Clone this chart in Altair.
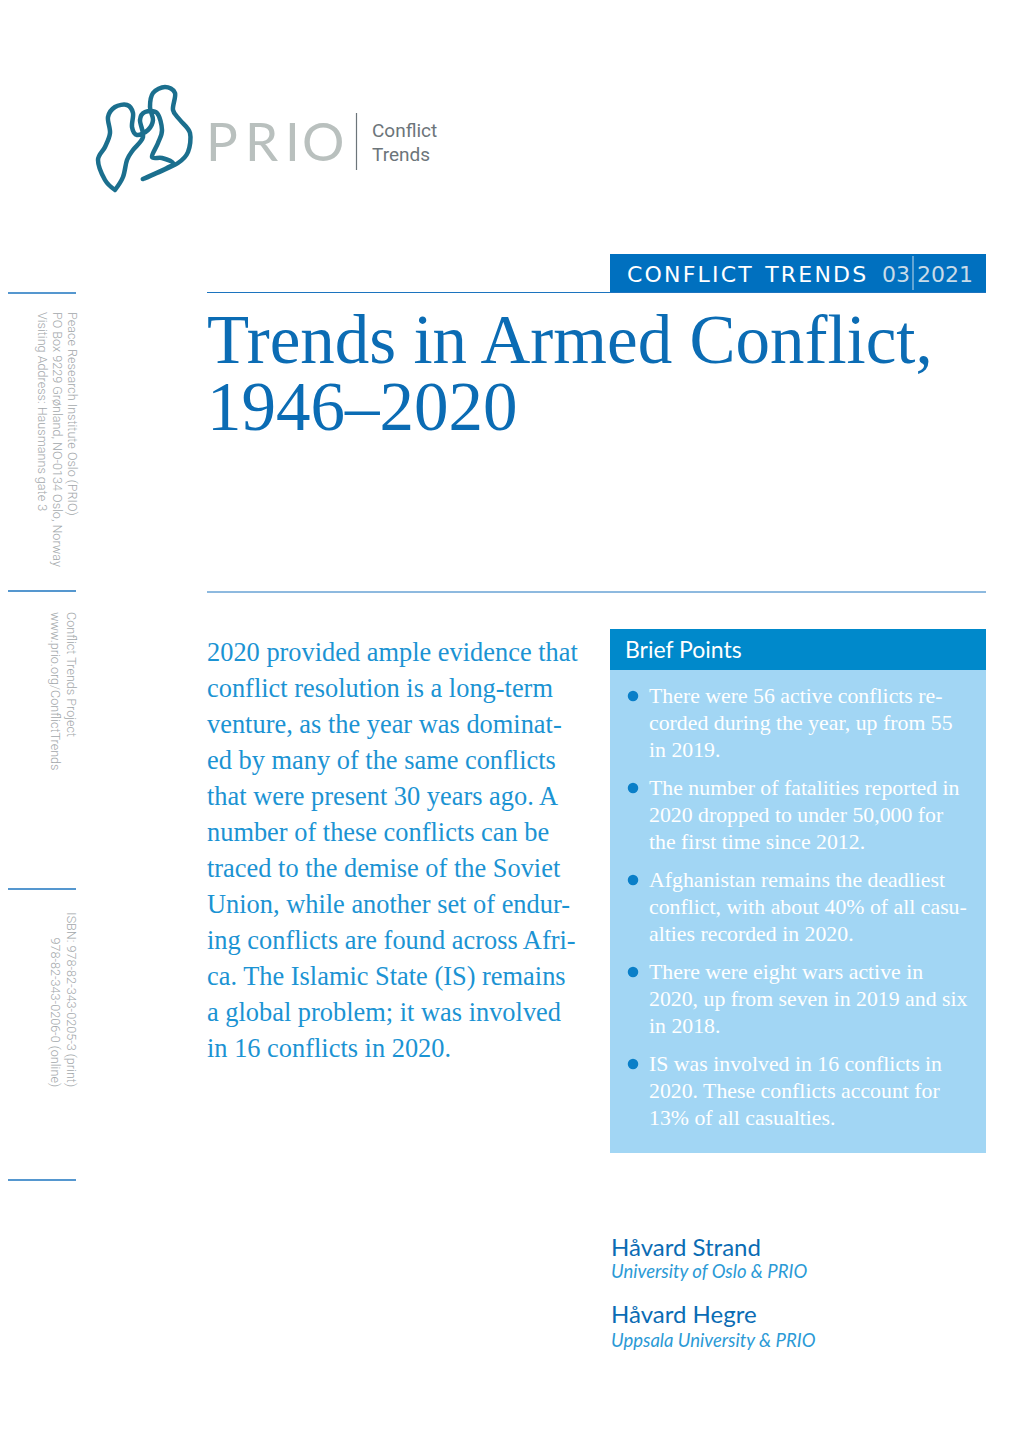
import altair as alt
import pandas as pd

# ---------------- content ----------------
logo_letters = ["P", "R", "I", "O"]
logo_sub = ["Conflict", "Trends"]
series_name = "CONFLICT TRENDS"
series_issue = "03"
series_year = "2021"
title_lines = ["Trends in Armed Conflict,", "1946–2020"]
intro_lines = [
    "2020 provided ample evidence that",
    "conflict resolution is a long-term",
    "venture, as the year was dominat-",
    "ed by many of the same conflicts",
    "that were present 30 years ago. A",
    "number of these conflicts can be",
    "traced to the demise of the Soviet",
    "Union, while another set of endur-",
    "ing conflicts are found across Afri-",
    "ca. The Islamic State (IS) remains",
    "a global problem; it was involved",
    "in 16 conflicts in 2020.",
]
brief_title = "Brief Points"
brief_points = [
    ["There were 56 active conflicts re-", "corded during the year, up from 55", "in 2019."],
    ["The number of fatalities reported in", "2020 dropped to under 50,000 for", "the first time since 2012."],
    ["Afghanistan remains the deadliest", "conflict, with about 40% of all casu-", "alties recorded in 2020."],
    ["There were eight wars active in", "2020, up from seven in 2019 and six", "in 2018."],
    ["IS was involved in 16 conflicts in", "2020. These conflicts account for", "13% of all casualties."],
]
side_address = [
    "Peace Research Institute Oslo (PRIO)",
    "PO Box 9229 Grønland, NO-0134 Oslo, Norway",
    "Visiting Address: Hausmanns gate 3",
]
side_project = ["Conflict Trends Project", "www.prio.org/ConflictTrends"]
side_isbn = ["ISBN: 978-82-343-0205-3 (print)", "978-82-343-0206-0 (online)"]
authors = ["Håvard Strand", "Håvard Hegre"]
affiliations = ["University of Oslo & PRIO", "Uppsala University & PRIO"]

# outline of the logo emblem
logo_path_x = [115, 105, 98, 105, 110, 108, 115, 127, 133, 132, 137, 148, 153, 150, 153, 165, 175, 173,
               180, 190, 188, 178, 157, 143, 167, 173, 162, 152, 158, 162, 157, 145, 140, 143, 133, 127, 123, 115]
logo_path_y = [190, 180, 160, 147, 133, 117, 107, 105, 113, 127, 135, 130, 120, 107, 93, 87, 93, 110,
               120, 133, 152, 163, 173, 179, 168, 163, 158, 157, 143, 130, 113, 112, 120, 137, 150, 160, 177, 190]

# ---------------- layout ----------------
W, H = 1004, 1420
XS = alt.Scale(domain=[8, 8 + W], nice=False, zero=False)
YS = alt.Scale(domain=[8, 8 + H], nice=False, zero=False, reverse=True)
X = alt.X("x:Q", scale=XS, axis=None)
Y = alt.Y("y:Q", scale=YS, axis=None)
X2 = alt.X2("x2:Q")
Y2 = alt.Y2("y2:Q")

SERIF = "Liberation Serif"
SANS = "Lato"

TITLE_BLUE = "#0b6cb4"
LIGHT_BLUE = "#1b93d3"
BAR_BLUE = "#0070bf"
BRIEF_HEAD = "#0089cb"
BRIEF_BODY = "#a2d6f4"
BULLET = "#0a7fc8"
GRAY = "#a2a7aa"
RULE = "#1c74bf"

HAIR = "\u200a"


def spaced(s):
    # emulate the letter spacing of the series banner
    return HAIR.join(list(s)).replace(" ", " " + HAIR)


layers = []


def text_layer(rows, **mk):
    df = pd.DataFrame(rows)
    return alt.Chart(df).mark_text(**mk).encode(x=X, y=Y, text="t:N")


def rect_layer(rows, color):
    df = pd.DataFrame(rows)
    return alt.Chart(df).mark_rect(color=color).encode(x=X, x2=X2, y=Y, y2=Y2)


def rule_layer(rows, color, width):
    df = pd.DataFrame(rows)
    return alt.Chart(df).mark_rule(color=color, strokeWidth=width).encode(x=X, x2=X2, y=Y, y2=Y2)


# logo emblem
logo_df = pd.DataFrame({"x": logo_path_x, "y": logo_path_y, "i": range(len(logo_path_x))})
layers.append(
    alt.Chart(logo_df).mark_line(interpolate="cardinal", strokeWidth=4.5, color="#1b6f8e",
                                 strokeCap="round", strokeJoin="round")
    .encode(x=X, y=Y, order="i:Q")
)
# PRIO letters
prio_x = [206, 245, 285, 302]
layers.append(text_layer([{"x": px, "y": 161, "t": l} for px, l in zip(prio_x, logo_letters)],
                         font=SANS, fontSize=53, color="#b9c0be", align="left", baseline="alphabetic"))
layers.append(rule_layer([{"x": 356.5, "x2": 356.5, "y": 113, "y2": 170}], "#6c757a", 1.2))
layers.append(text_layer([{"x": 372, "y": 137 + 24 * i, "t": s} for i, s in enumerate(logo_sub)],
                         font="Roboto", fontSize=19, color="#6c757a", align="left", baseline="alphabetic"))

# series bar
layers.append(rect_layer([{"x": 610, "x2": 986, "y": 254, "y2": 292}], BAR_BLUE))
layers.append(text_layer([{"x": 627, "y": 282, "t": spaced(series_name)}],
                         font="DejaVu Sans", fontSize=22, color="white", align="left", baseline="alphabetic"))
layers.append(text_layer([{"x": 882, "y": 282, "t": series_issue},
                          {"x": 917, "y": 282, "t": series_year}],
                         font="DejaVu Sans", fontSize=22, color="#c7dbe8", align="left", baseline="alphabetic"))
layers.append(rule_layer([{"x": 913, "x2": 913, "y": 256, "y2": 290}], "#c7dbe8", 1))

# horizontal rules
layers.append(rule_layer([{"x": 207, "x2": 986, "y": 292.5, "y2": 292.5},
                          {"x": 207, "x2": 986, "y": 592, "y2": 592}], RULE, 1))
layers.append(rule_layer([{"x": 0, "x2": 76, "y": yy, "y2": yy} for yy in [293, 591, 889, 1180]], RULE, 1.3))

# title
layers.append(text_layer([{"x": 207, "y": 363 + 67 * i, "t": s} for i, s in enumerate(title_lines)],
                         font=SERIF, fontSize=69, color=TITLE_BLUE, align="left", baseline="alphabetic"))

# side texts (rotated)
SIDE = dict(font="Roboto", fontSize=12.6, fontWeight=300, color=GRAY, angle=90, baseline="middle")
side_rows = [{"x": 72 - 15 * i, "y": 312, "t": s} for i, s in enumerate(side_address)]
side_rows += [{"x": 71 - 16 * i, "y": 612, "t": s} for i, s in enumerate(side_project)]
layers.append(text_layer(side_rows, align="left", **SIDE))
layers.append(text_layer([{"x": 71 - 16 * i, "y": 1087, "t": s} for i, s in enumerate(side_isbn)],
                         align="right", **SIDE))

# intro paragraph
layers.append(text_layer([{"x": 207, "y": 661 + 36 * i, "t": s} for i, s in enumerate(intro_lines)],
                         font=SERIF, fontSize=26.4, color=LIGHT_BLUE, align="left", baseline="alphabetic"))

# brief points box
layers.append(rect_layer([{"x": 610, "x2": 986, "y": 629, "y2": 670}], BRIEF_HEAD))
layers.append(rect_layer([{"x": 610, "x2": 986, "y": 670, "y2": 1153}], BRIEF_BODY))
layers.append(text_layer([{"x": 625, "y": 658, "t": brief_title}],
                         font=SANS, fontSize=23, color="white", align="left", baseline="alphabetic"))
brief_rows = []
bullet_rows = []
for b, lines in enumerate(brief_points):
    base = 703 + 92 * b
    bullet_rows.append({"x": 633, "y": base - 7})
    for j, s in enumerate(lines):
        brief_rows.append({"x": 649, "y": base + 27 * j, "t": s})
layers.append(alt.Chart(pd.DataFrame(bullet_rows)).mark_circle(color=BULLET, opacity=1, size=110)
              .encode(x=X, y=Y))
layers.append(text_layer(brief_rows, font=SERIF, fontSize=21.8, color="white", align="left",
                         baseline="alphabetic"))

# authors
layers.append(text_layer([{"x": 611, "y": 1256 + 67 * i, "t": s} for i, s in enumerate(authors)],
                         font=SANS, fontSize=24, color=TITLE_BLUE, align="left", baseline="alphabetic"))
layers.append(text_layer([{"x": 611, "y": 1278 + 69 * i, "t": s} for i, s in enumerate(affiliations)],
                         font=SANS, fontSize=18.5, fontStyle="italic", color="#2b9ad6", align="left",
                         baseline="alphabetic"))

chart = (
    alt.layer(*layers)
    .properties(width=W, height=H, autosize=alt.AutoSizeParams(type="none"), padding=0)
    .configure_view(strokeWidth=0)
)

chart.save("out.html", embed_options={"renderer": "svg", "actions": False})
